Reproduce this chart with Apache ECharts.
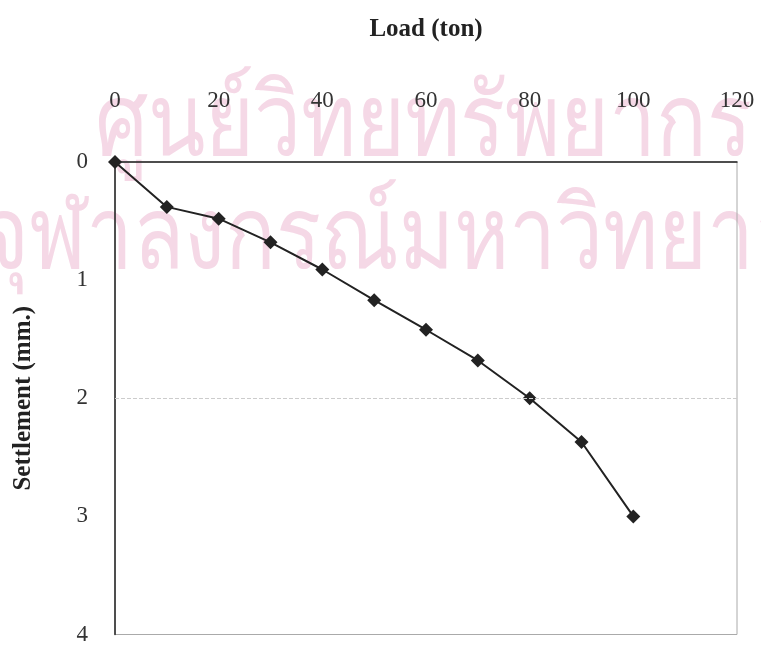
<!DOCTYPE html>
<html>
<head>
<meta charset="utf-8">
<script src="https://cdn.jsdelivr.net/npm/echarts@6/dist/echarts.min.js"></script>
<style>html,body{margin:0;padding:0;background:#fff;}#c{width:761px;height:646px;}</style>
</head>
<body>
<div id="c"></div>
<script>
var loads = [0, 10, 20, 30, 40, 50, 60, 70, 80, 90, 100];
var settlements = [0, 0.38, 0.48, 0.68, 0.91, 1.17, 1.42, 1.68, 2.0, 2.37, 3.0];
var xTicks = [0, 20, 40, 60, 80, 100, 120];
var yTicks = [0, 1, 2, 3, 4];
var xTitle = 'Load (ton)';
var yTitle = 'Settlement (mm.)';
var watermark1 = 'ศูนย์วิทยทรัพยากร';
var watermark2 = 'จุฬาลงกรณ์มหาวิทยาลัย';

var serif = '"Liberation Serif", "DejaVu Serif", serif';
var chart = echarts.init(document.getElementById('c'));
chart.setOption({
  backgroundColor: '#fff',
  animation: false,
  graphic: [
    { type: 'text', left: 95, top: 76, scaleY: 1.2, z: -10, silent: true,
      style: { text: watermark1, fill: '#f5d8e6', font: '84px "Noto Sans", "DejaVu Sans", sans-serif' } },
    { type: 'text', left: -20, top: 189, scaleY: 1.2, z: -10, silent: true,
      style: { text: watermark2, fill: '#f5d8e6', font: '84px "Noto Sans", "DejaVu Sans", sans-serif' } }
  ],
  grid: { left: 115, top: 162, right: 24, bottom: 10, show: true, borderColor: '#aaa', borderWidth: 1, backgroundColor: 'transparent' },
  xAxis: {
    type: 'value', position: 'top', min: xTicks[0], max: xTicks[xTicks.length - 1], interval: 20,
    name: xTitle, nameLocation: 'middle', nameGap: 120,
    nameTextStyle: { fontFamily: serif, fontWeight: 'bold', fontSize: 25, color: '#222' },
    axisLine: { show: true, lineStyle: { color: '#222', width: 1.5 } },
    axisTick: { show: false },
    splitLine: { show: false },
    axisLabel: { fontFamily: serif, fontSize: 23, color: '#333', margin: 50 }
  },
  yAxis: {
    type: 'value', inverse: true, min: yTicks[0], max: yTicks[yTicks.length - 1], interval: 1,
    name: yTitle, nameLocation: 'middle', nameGap: 79, nameRotate: 90,
    nameTextStyle: { fontFamily: serif, fontWeight: 'bold', fontSize: 25, color: '#222' },
    axisLine: { show: true, lineStyle: { color: '#222', width: 1.5 } },
    axisTick: { show: false },
    splitLine: { show: false },
    axisLabel: { fontFamily: serif, fontSize: 23, color: '#333', margin: 27 }
  },
  series: [{
    type: 'line',
    data: loads.map(function (x, i) { return [x, settlements[i]]; }),
    symbol: 'diamond', symbolSize: 14,
    itemStyle: { color: '#222' },
    lineStyle: { color: '#222', width: 2 },
    markLine: {
      silent: true, symbol: 'none', label: { show: false },
      lineStyle: { color: '#ccc', type: 'dashed', width: 1 },
      data: [{ yAxis: yTicks[2] }]
    }
  }]
});
</script>
</body>
</html>
